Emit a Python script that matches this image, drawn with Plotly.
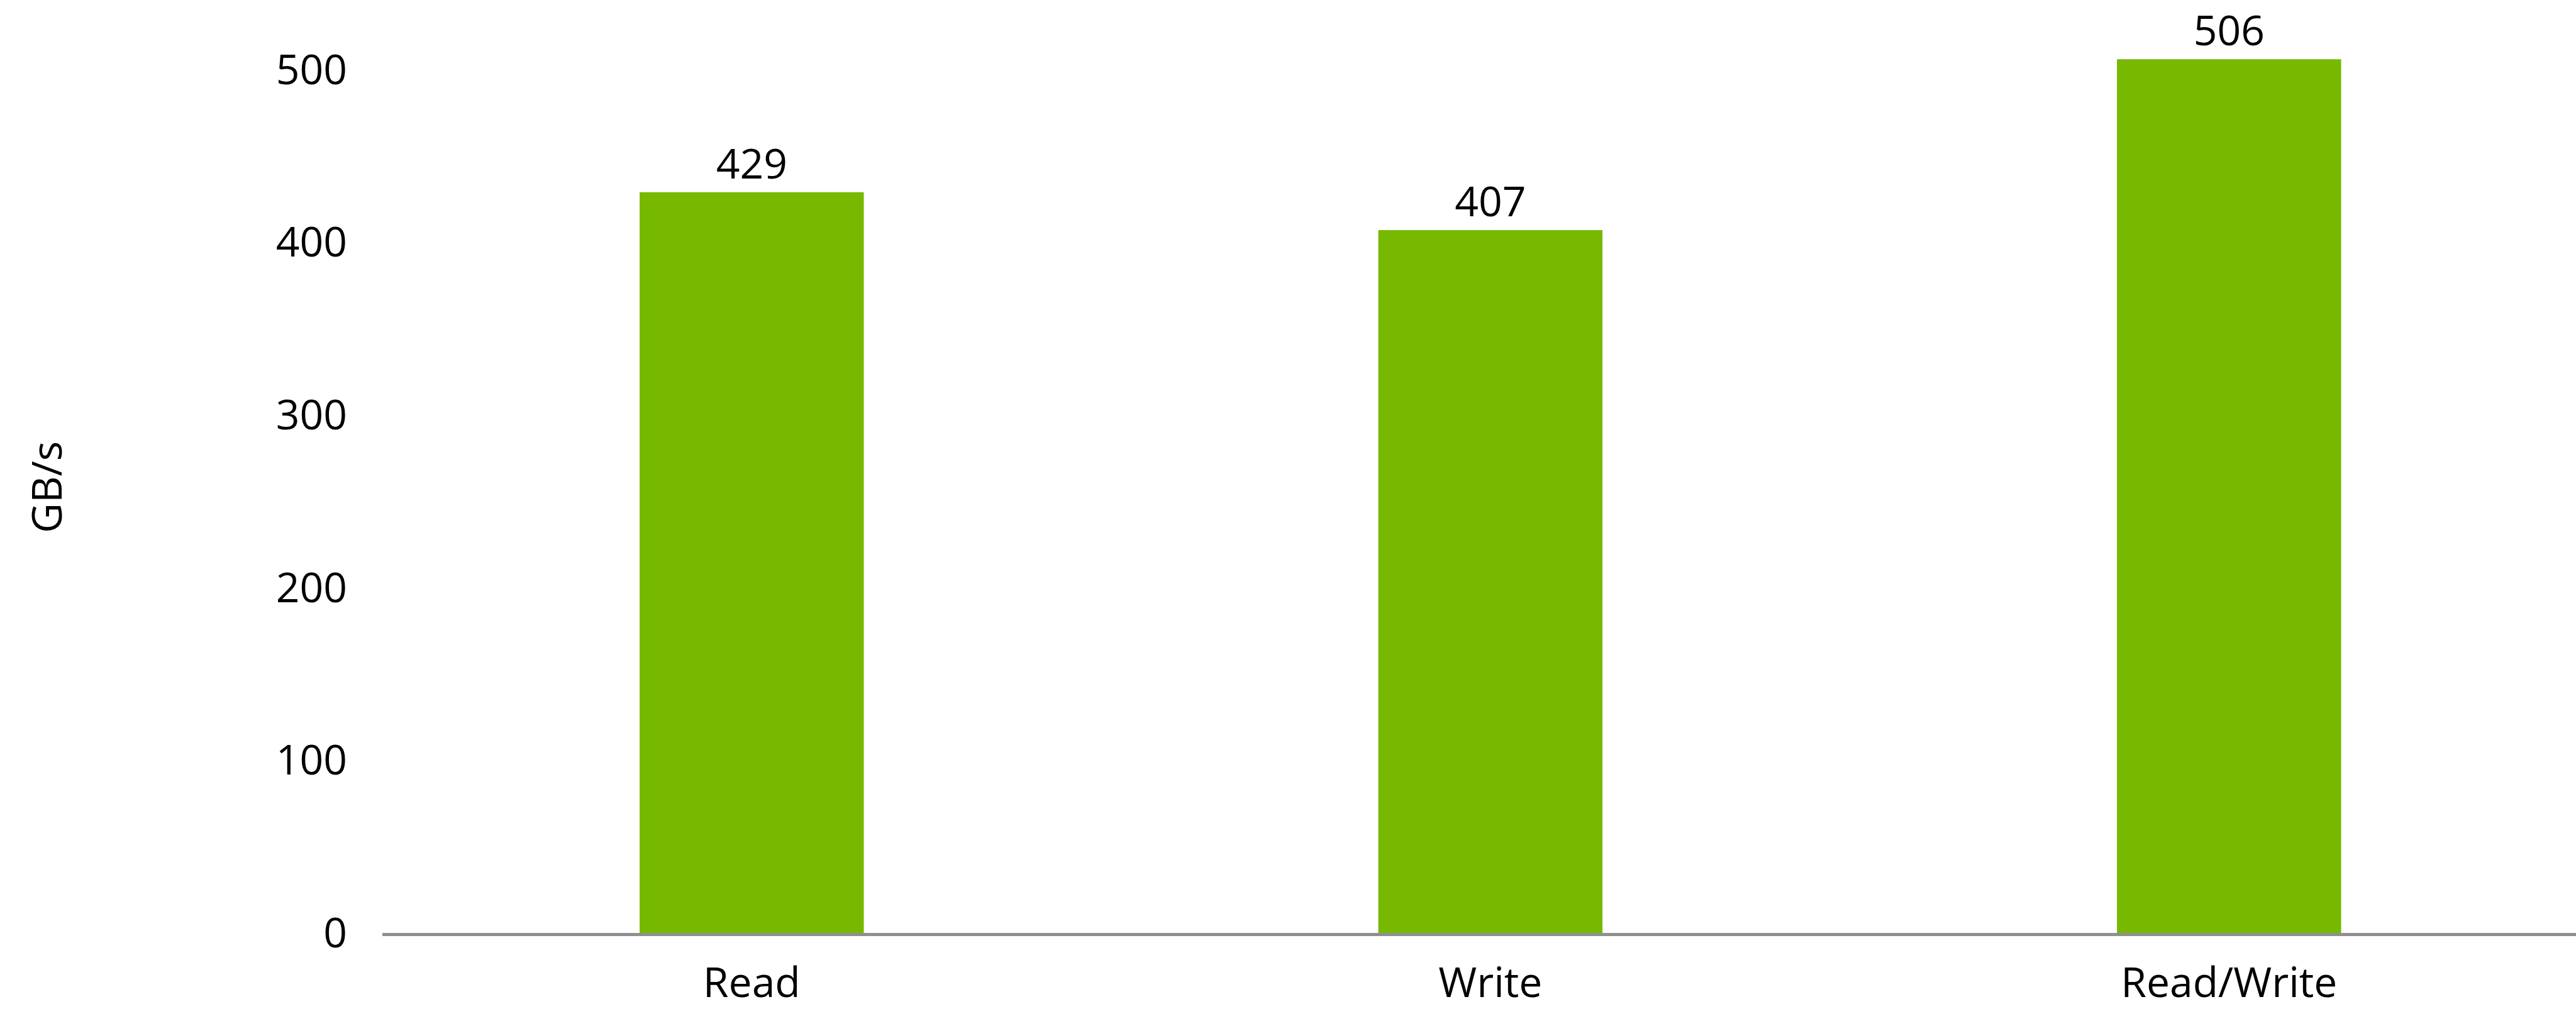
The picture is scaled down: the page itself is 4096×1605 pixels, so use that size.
import plotly.graph_objects as go

categories = ["Read", "Write", "Read/Write"]
values = [429, 407, 506]
y_ticks = [0, 100, 200, 300, 400, 500]
y_title = "GB/s"

FONT = "Open Sans"
FS = 66
GREEN = "#76B900"

fig = go.Figure()
fig.add_trace(go.Bar(
    x=categories,
    y=values,
    width=0.3035,
    marker=dict(color=GREEN, line=dict(width=0)),
    text=[str(v) for v in values],
    textposition="outside",
    textfont=dict(family=FONT, size=FS, color="#000000"),
    cliponaxis=False,
    showlegend=False,
))

fig.update_layout(
    width=4096,
    height=1605,
    margin=dict(l=608, r=0, t=0, b=121, pad=0, autoexpand=False),
    paper_bgcolor="#ffffff",
    plot_bgcolor="#ffffff",
    font=dict(family=FONT, size=FS, color="#000000"),
    xaxis=dict(
        type="category",
        range=[-0.5, 2.4697],
        automargin=False,
        showline=True,
        linecolor="#8f8f8f",
        linewidth=5,
        showgrid=False,
        zeroline=False,
        ticks="",
        tickfont=dict(family=FONT, size=FS, color="#000000"),
        ticklabelstandoff=18,
    ),
    yaxis=dict(
        range=[0, 540.3],
        automargin=False,
        tickvals=y_ticks,
        ticktext=[str(t) for t in y_ticks],
        showline=False,
        showgrid=False,
        zeroline=False,
        ticks="",
        tickfont=dict(family=FONT, size=FS, color="#000000"),
        ticklabelstandoff=55,
    ),
    annotations=[dict(
        text=y_title,
        textangle=-90,
        xref="paper", yref="paper",
        x=(72 - 608) / 3488, y=(1484 - 775) / 1484,
        xanchor="center", yanchor="middle",
        showarrow=False,
        font=dict(family=FONT, size=FS, color="#000000"),
    )],
)

fig.write_html("out.html")
